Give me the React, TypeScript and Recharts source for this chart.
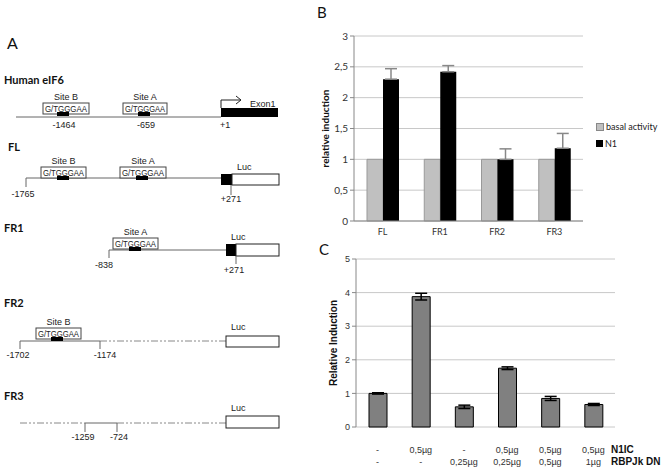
import React from 'react';
import {
  BarChart,
  Bar,
  XAxis,
  YAxis,
  CartesianGrid,
  ErrorBar
} from 'recharts';

// panel B
const constructs = ['FL', 'FR1', 'FR2', 'FR3'];
const basalActivity = [1, 1, 1, 1];
const n1Induction = [2.3, 2.42, 1.0, 1.18];
const n1Error = [0.17, 0.1, 0.17, 0.24];
const bTicks = [0, 0.5, 1, 1.5, 2, 2.5, 3];

// panel C
const n1icDose = ['-', '0,5µg', '-', '0,5µg', '0,5µg', '0,5µg'];
const rbpjkDose = ['-', '-', '0,25µg', '0,25µg', '0,5µg', '1µg'];
const relInduction = [1.0, 3.88, 0.6, 1.75, 0.85, 0.67];
const relError = [0.02, 0.1, 0.05, 0.04, 0.06, 0.03];
const cTicks = [0, 1, 2, 3, 4, 5];

const bData = constructs.map((name, i) => ({
  name,
  basal: basalActivity[i],
  n1: n1Induction[i],
  n1Err: [0, n1Error[i]]
}));

const cData = relInduction.map((v, i) => ({
  id: `c${i}`,
  value: v,
  err: relError[i]
}));

const ARIAL = '"Liberation Sans", Arial, sans-serif';
const CAL = 'Lato, "Open Sans", sans-serif';
const LINE = '#666';
const DASH = '7 2 2 2 2 2';

const comma = (v: number) => String(v).replace('.', ',');

const SiteBox = ({ x, y, w, label, mark }: { x: number; y: number; w: number; label: string; mark: number }) => (
  <g>
    <text x={x + w / 2} y={y - 3} fontSize={9} textAnchor="middle" fill="#222" fontFamily={ARIAL}>{label}</text>
    <rect x={x} y={y} width={w} height={11} fill="#fff" stroke="#444" strokeWidth={1} />
    <text
      x={x + 2}
      y={y + 9}
      fontSize={9}
      textLength={w - 4}
      lengthAdjust="spacingAndGlyphs"
      fill="#222"
      fontFamily={ARIAL}
    >
      G/TGGGAA
    </text>
    <rect x={mark} y={y + 9} width={12} height={4} fill="#000" />
  </g>
);

const Num = ({ x, y, t, anchor = 'middle' }: { x: number; y: number; t: string; anchor?: string }) => (
  <text x={x} y={y} fontSize={9} textAnchor={anchor as any} fill="#222" fontFamily={ARIAL}>{t}</text>
);

const Title = ({ x, y, t }: { x: number; y: number; t: string }) => (
  <text x={x} y={y} fontSize={11} fontWeight="bold" fill="#111" fontFamily={CAL}>{t}</text>
);

const PanelA = () => (
  <svg width={300} height={468} style={{ position: 'absolute', left: 0, top: 0 }}>
    <text x={7} y={49} fontSize={16} fill="#111" fontFamily={CAL}>A</text>

    {/* Human eIF6 */}
    <Title x={4} y={84} t="Human eIF6" />
    <line x1={16} y1={117} x2={221} y2={117} stroke={LINE} />
    <SiteBox x={43} y={103} w={46} label="Site B" mark={57} />
    <SiteBox x={123} y={103} w={44} label="Site A" mark={138} />
    <Num x={64} y={128} t="-1464" />
    <Num x={146} y={128} t="-659" />
    <rect x={221} y={108} width={57} height={9} fill="#000" />
    <polyline points="221,108 221,100 241,100" fill="none" stroke="#222" />
    <polyline points="236,96 241,100 236,104" fill="none" stroke="#222" />
    <text x={250} y={107} fontSize={9} fill="#222" fontFamily={ARIAL}>Exon1</text>
    <Num x={220} y={128} t="+1" anchor="start" />

    {/* FL */}
    <Title x={8} y={151} t="FL" />
    <line x1={26} y1={178} x2={221} y2={178} stroke={LINE} />
    <line x1={26} y1={178} x2={26} y2={187} stroke={LINE} />
    <Num x={23} y={197} t="-1765" />
    <SiteBox x={41} y={167} w={45} label="Site B" mark={57} />
    <SiteBox x={120} y={167} w={46} label="Site A" mark={136} />
    <rect x={221} y={174} width={11} height={11} fill="#000" />
    <rect x={232} y={174} width={47} height={11} fill="#fff" stroke="#222" />
    <text x={237} y={170} fontSize={9} fill="#222" fontFamily={ARIAL}>Luc</text>
    <line x1={231} y1={185} x2={231} y2={195} stroke={LINE} />
    <Num x={231} y={202} t="+271" />

    {/* FR1 */}
    <Title x={4} y={232} t="FR1" />
    <line x1={109} y1={250} x2={226} y2={250} stroke={LINE} />
    <line x1={109} y1={250} x2={109} y2={258} stroke={LINE} />
    <Num x={104} y={268} t="-838" />
    <SiteBox x={113} y={238} w={45} label="Site A" mark={129} />
    <rect x={226} y={244} width={10} height={12} fill="#000" />
    <rect x={236} y={244} width={43} height={12} fill="#fff" stroke="#222" />
    <text x={231} y={240} fontSize={9} fill="#222" fontFamily={ARIAL}>Luc</text>
    <line x1={236} y1={256} x2={236} y2={264} stroke={LINE} />
    <Num x={234} y={273} t="+271" />

    {/* FR2 */}
    <Title x={4} y={307} t="FR2" />
    <line x1={20} y1={341} x2={100} y2={341} stroke={LINE} />
    <line x1={100} y1={341} x2={226} y2={341} stroke="#888" strokeDasharray={DASH} />
    <line x1={20} y1={341} x2={20} y2={349} stroke={LINE} />
    <line x1={100} y1={341} x2={100} y2={349} stroke={LINE} />
    <Num x={18} y={358} t="-1702" />
    <Num x={105} y={358} t="-1174" />
    <SiteBox x={36} y={328} w={45} label="Site B" mark={51} />
    <rect x={226} y={336} width={53} height={11} fill="#fff" stroke="#222" />
    <text x={231} y={330} fontSize={9} fill="#222" fontFamily={ARIAL}>Luc</text>

    {/* FR3 */}
    <Title x={4} y={400} t="FR3" />
    <line x1={20} y1={423} x2={85} y2={423} stroke="#888" strokeDasharray={DASH} />
    <line x1={85} y1={423} x2={117} y2={423} stroke={LINE} />
    <line x1={117} y1={423} x2={226} y2={423} stroke="#888" strokeDasharray={DASH} />
    <line x1={85} y1={423} x2={85} y2={432} stroke={LINE} />
    <line x1={117} y1={423} x2={117} y2={432} stroke={LINE} />
    <Num x={83} y={440} t="-1259" />
    <Num x={119} y={440} t="-724" />
    <rect x={226} y={416} width={53} height={12} fill="#fff" stroke="#222" />
    <text x={231} y={411} fontSize={9} fill="#222" fontFamily={ARIAL}>Luc</text>
  </svg>
);

const PanelB = () => (
  <div style={{ position: 'absolute', left: 300, top: 0 }}>
    <BarChart
      width={361}
      height={250}
      data={bData}
      margin={{ top: 36, right: 78, bottom: 9, left: 0 }}
      barGap={0}
      barSize={16}
    >
      <CartesianGrid vertical={false} stroke="#c8c8c8" />
      <XAxis
        dataKey="name"
        height={20}
        stroke="#888"
        tickLine={false}
        tick={{ fill: '#333', fontSize: 9, fontFamily: CAL }}
      />
      <YAxis
        width={54}
        domain={[0, 3]}
        ticks={bTicks}
        tickFormatter={comma}
        stroke="#888"
        tickSize={4}
        tick={{ fill: '#333', fontSize: 10, fontFamily: CAL }}
        label={{
          value: 'relative induction',
          angle: -90,
          position: 'center',
          dx: -2,
          style: { fontSize: 10, fontWeight: 'bold', fill: '#111', fontFamily: CAL }
        }}
      />
      <Bar dataKey="basal" fill="#c0c0c0" stroke="#999" isAnimationActive={false} />
      <Bar dataKey="n1" fill="#000" isAnimationActive={false}>
        <ErrorBar dataKey="n1Err" stroke="#888" width={6} strokeWidth={1.5} />
      </Bar>
    </BarChart>
    <div style={{ position: 'absolute', left: 296, top: 118, fontFamily: CAL, fontSize: 9, color: '#222', lineHeight: '17px', whiteSpace: 'nowrap' }}>
      <div style={{ display: 'flex', alignItems: 'center' }}>
        <span style={{ width: 6, height: 6, background: '#c0c0c0', border: '1px solid #888', marginRight: 2 }} />
        basal activity
      </div>
      <div style={{ display: 'flex', alignItems: 'center' }}>
        <span style={{ width: 7, height: 7, background: '#000', marginRight: 2 }} />
        N1
      </div>
    </div>
    <div style={{ position: 'absolute', left: 17, top: 3, fontFamily: CAL, fontSize: 15, color: '#111' }}>B</div>
  </div>
);

const DoseTick = (props: any) => {
  const { x, y, index } = props;
  return (
    <g>
      <text x={x} y={y + 18} textAnchor="middle" fontSize={9} fill="#333" fontFamily={ARIAL}>{n1icDose[index]}</text>
      <text x={x} y={y + 30} textAnchor="middle" fontSize={9} fill="#333" fontFamily={ARIAL}>{rbpjkDose[index]}</text>
    </g>
  );
};

const PanelC = () => (
  <div style={{ position: 'absolute', left: 300, top: 240 }}>
    <BarChart
      width={361}
      height={228}
      data={cData}
      margin={{ top: 19, right: 46, bottom: 0, left: 0 }}
      barSize={18}
    >
      <CartesianGrid vertical={false} stroke="#c8c8c8" />
      <XAxis dataKey="id" height={41} axisLine={false} tickLine={false} interval={0} tick={<DoseTick />} />
      <YAxis
        width={56}
        domain={[0, 5]}
        ticks={cTicks}
        stroke="#888"
        tickSize={4}
        tick={{ fill: '#333', fontSize: 9, fontFamily: ARIAL }}
        label={{
          value: 'Relative Induction',
          angle: -90,
          position: 'center',
          dx: 5,
          style: { fontSize: 10, fontWeight: 'bold', fill: '#111', fontFamily: ARIAL }
        }}
      />
      <Bar dataKey="value" fill="#808080" stroke="#000" isAnimationActive={false}>
        <ErrorBar dataKey="err" stroke="#000" width={6} />
      </Bar>
    </BarChart>
    <div style={{ position: 'absolute', left: 311, top: 204, fontFamily: ARIAL, fontSize: 10, fontWeight: 'bold', color: '#111', lineHeight: '12px', whiteSpace: 'nowrap' }}>
      <div>N1IC</div>
      <div>RBPJk DN</div>
    </div>
    <div style={{ position: 'absolute', left: 19, top: 0, fontFamily: CAL, fontSize: 15, color: '#111' }}>C</div>
  </div>
);

export default function App() {
  return (
    <div style={{ position: 'fixed', left: 0, top: 0, width: 661, height: 468, background: '#fff', overflow: 'hidden' }}>
      <PanelA />
      <PanelB />
      <PanelC />
    </div>
  );
}
